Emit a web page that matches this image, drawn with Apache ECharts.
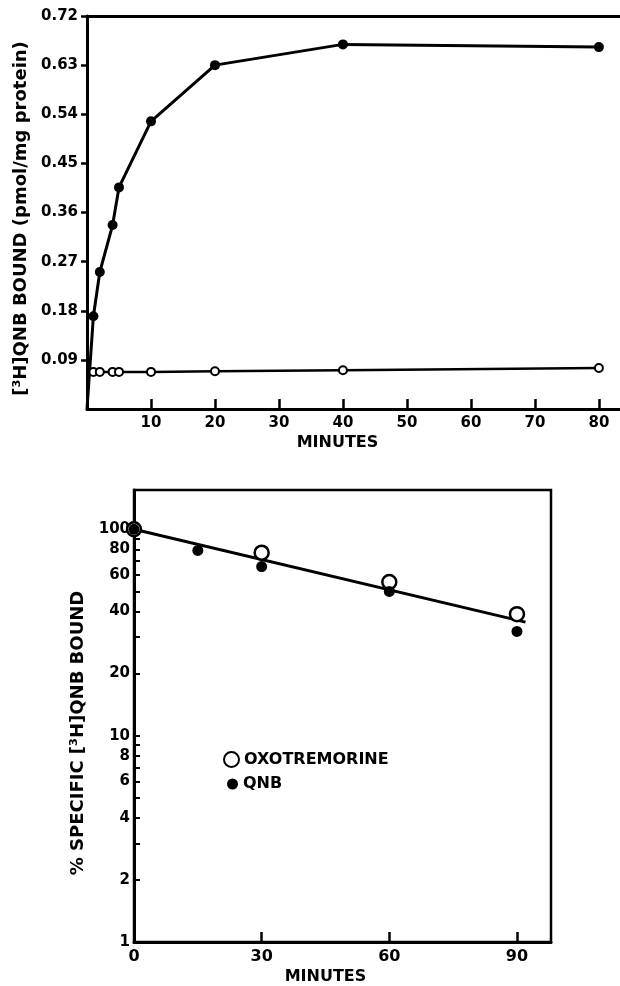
<!DOCTYPE html>
<html>
<head>
<meta charset="utf-8">
<script src="https://cdn.jsdelivr.net/npm/echarts@6/dist/echarts.min.js"></script>
<style>
html,body{margin:0;padding:0;background:#fff;}
#c{width:620px;height:986px;}
</style>
</head>
<body>
<div id="c"></div>
<script>
// ---- Top chart data (minutes vs pmol/mg protein) ----
var topTime = [0, 1, 2, 4, 5, 10, 20, 40, 80];
var topTotal = [0, 0.170, 0.251, 0.337, 0.406, 0.527, 0.630, 0.668, 0.663];
var topOpenTime = [1, 2, 4, 5, 10, 20, 40, 80];
var topOpen = [0.068, 0.068, 0.068, 0.068, 0.068, 0.069, 0.071, 0.075];
var topXTicks = [10, 20, 30, 40, 50, 60, 70, 80];
var topYTicks = [0.09, 0.18, 0.27, 0.36, 0.45, 0.54, 0.63, 0.72];

// ---- Bottom chart data (% specific bound, log scale) ----
var botOxoTime = [0, 30, 60, 90];
var botOxo = [100, 77, 55.5, 38.8];
var botQnbTime = [0, 15, 30, 60, 90];
var botQnb = [100, 79, 66, 50, 32];
var botFitTime = [0, 92];
var botFit = [100, 35.5];
var botXTicks = [0, 30, 60, 90];
var botYLabels = [1, 2, 4, 6, 8, 10, 20, 40, 60, 80, 100];
var botYTicks = [1, 2, 3, 4, 5, 6, 7, 8, 9, 10, 20, 30, 40, 50, 60, 70, 80, 90, 100];

function zip(a, b) { return a.map(function (v, i) { return [v, b[i]]; }); }

var F = 'DejaVu Sans';
var lbl = {color: '#000', fontFamily: F, fontWeight: 'bold', fontSize: 15};
var blackLine = {show: true, lineStyle: {color: '#000', width: 3}};
var legendText = {color: '#000', fontFamily: F, fontWeight: 'bold', fontSize: 16};

var chart = echarts.init(document.getElementById('c'), null, {renderer: 'canvas'});
chart.setOption({
  animation: false,
  backgroundColor: '#fff',
  grid: [
    {left: 87, right: 0, top: 16, bottom: 577},
    {left: 134, right: 69, top: 490, bottom: 44, show: true, borderColor: '#000', borderWidth: 2.5, backgroundColor: 'transparent'}
  ],
  legend: [
    {
      data: ['OXOTREMORINE'], left: 218, top: 746,
      itemWidth: 15, itemHeight: 15, textStyle: legendText
    },
    {
      data: ['QNB'], left: 222, top: 771,
      itemWidth: 11, itemHeight: 11, itemGap: 0, textStyle: legendText
    }
  ],
  xAxis: [
    {
      gridIndex: 0, type: 'value', min: 0, max: 83.3,
      axisLine: blackLine,
      axisTick: {show: true, inside: true, length: 10, lineStyle: {color: '#000', width: 2.5}, customValues: topXTicks},
      axisLabel: Object.assign({margin: 7, customValues: topXTicks}, lbl),
      splitLine: {show: false},
      name: 'MINUTES', nameLocation: 'middle', nameGap: 26,
      nameTextStyle: {color: '#000', fontFamily: F, fontWeight: 'bold', fontSize: 16, padding: [0, 32, 0, 0]}
    },
    {
      gridIndex: 0, type: 'value', position: 'top', min: 0, max: 83.3,
      axisLine: blackLine, axisTick: {show: false}, axisLabel: {show: false}, splitLine: {show: false}
    },
    {
      gridIndex: 1, type: 'value', min: 0, max: 98,
      axisLine: blackLine,
      axisTick: {show: true, inside: true, length: 10, lineStyle: {color: '#000', width: 2.5}, customValues: [30, 60, 90]},
      axisLabel: Object.assign({margin: 7, customValues: botXTicks}, lbl, {fontSize: 16}),
      splitLine: {show: false},
      name: 'MINUTES', nameLocation: 'middle', nameGap: 27,
      nameTextStyle: {color: '#000', fontFamily: F, fontWeight: 'bold', fontSize: 16, padding: [0, 34, 0, 0]}
    }
  ],
  yAxis: [
    {
      gridIndex: 0, type: 'value', min: 0, max: 0.72,
      axisLine: blackLine,
      axisTick: {show: true, length: 6, lineStyle: {color: '#000', width: 2.5}, customValues: topYTicks},
      axisLabel: Object.assign({margin: 9, customValues: topYTicks, formatter: function (v) { return v.toFixed(2); }}, lbl),
      splitLine: {show: false},
      name: '[\u00B3H]QNB BOUND (pmol/mg protein)', nameLocation: 'middle', nameGap: 57,
      nameTextStyle: {color: '#000', fontFamily: F, fontWeight: 'bold', fontSize: 18, padding: [0, 12, 0, 0]}
    },
    {
      gridIndex: 1, type: 'log', logBase: 10, min: 1, max: 155,
      axisLine: blackLine,
      axisTick: {show: true, inside: true, length: 6, lineStyle: {color: '#000', width: 2}, customValues: botYTicks},
      axisLabel: Object.assign({margin: 4, customValues: botYLabels}, lbl),
      minorTick: {show: false},
      splitLine: {show: false},
      name: '% SPECIFIC [\u00B3H]QNB BOUND', nameLocation: 'middle', nameGap: 32,
      nameTextStyle: {color: '#000', fontFamily: F, fontWeight: 'bold', fontSize: 18, padding: [0, 34, 0, 0]}
    }
  ],
  series: [
    {
      name: 'Total', type: 'line', xAxisIndex: 0, yAxisIndex: 0,
      data: zip(topTime, topTotal).map(function (p, i) { return i === 0 ? {value: p, symbol: 'none'} : p; }),
      symbol: 'circle', symbolSize: 10, showAllSymbol: true,
      lineStyle: {color: '#000', width: 3}, itemStyle: {color: '#000'}
    },
    {
      name: 'Nonspecific', type: 'line', xAxisIndex: 0, yAxisIndex: 0,
      data: zip(topOpenTime, topOpen),
      symbol: 'circle', symbolSize: 8, showAllSymbol: true,
      lineStyle: {color: '#000', width: 2.5}, itemStyle: {color: '#fff', borderColor: '#000', borderWidth: 2}
    },
    {
      name: 'Fit', type: 'line', xAxisIndex: 2, yAxisIndex: 1,
      data: zip(botFitTime, botFit), symbol: 'none',
      lineStyle: {color: '#000', width: 3}
    },
    {
      name: 'OXOTREMORINE', type: 'scatter', xAxisIndex: 2, yAxisIndex: 1,
      data: zip(botOxoTime, botOxo), symbol: 'circle', symbolSize: 14,
      itemStyle: {color: '#fff', borderColor: '#000', borderWidth: 2.5, opacity: 1}, z: 3
    },
    {
      name: 'QNB', type: 'scatter', xAxisIndex: 2, yAxisIndex: 1,
      data: zip(botQnbTime, botQnb), symbol: 'circle', symbolSize: 11,
      itemStyle: {color: '#000', opacity: 1}, z: 4
    }
  ]
});
</script>
</body>
</html>
